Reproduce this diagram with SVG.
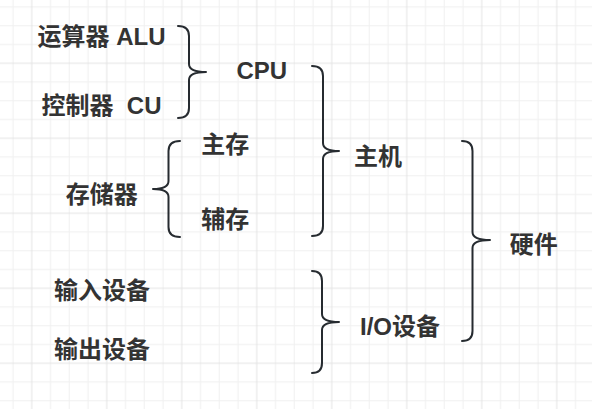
<svg xmlns="http://www.w3.org/2000/svg" width="592" height="409" viewBox="0 0 592 409">
<defs>
<style>
.t{font-family:"Liberation Sans","Noto Sans CJK SC",sans-serif;font-weight:bold;font-size:24px;fill:#333333;}
.b{fill:none;stroke:#262b30;stroke-width:2;stroke-linecap:round;stroke-linejoin:round;}
</style>
<pattern id="grid" patternUnits="userSpaceOnUse" x="31.75" y="63.25" width="75" height="75">
<g fill="#f0f0f0">
<rect x="18.25" y="0" width="1" height="75"/>
<rect x="37" y="0" width="1" height="75"/>
<rect x="55.75" y="0" width="1" height="75"/>
<rect x="0" y="18.25" width="75" height="1"/>
<rect x="0" y="37" width="75" height="1"/>
<rect x="0" y="55.75" width="75" height="1"/>
</g>
<g fill="#e3e3e3">
<rect x="-0.5" y="0" width="1" height="75"/>
<rect x="74.5" y="0" width="1" height="75"/>
<rect x="0" y="-0.5" width="75" height="1"/>
<rect x="0" y="74.5" width="75" height="1"/>
</g>
</pattern>
</defs>
<rect x="0" y="0" width="592" height="409" fill="#ffffff"/>
<rect x="0" y="0" width="592" height="409" fill="url(#grid)"/>
<g id="connectors">
<path class="b" d="M178,26 Q189,26 189,36 L189,64 Q189,72 206,72 Q189,72 189,80 L189,108 Q189,118 178,118"/>
<path class="b" d="M312,66 Q323,66 323,76 L323,143 Q323,151 339,151 Q323,151 323,159 L323,226 Q323,236 312,236"/>
<path class="b" d="M462,141 Q472.5,141 472.5,151 L472.5,232 Q472.5,240 490,240 Q472.5,240 472.5,248 L472.5,331 Q472.5,341 462,341"/>
<path class="b" d="M312,271 Q322,271 322,281 L322,314 Q322,322 339,322 Q322,322 322,330 L322,363 Q322,373 312,373"/>
<path class="b" d="M180,141 Q168.5,141 168.5,151 L168.5,181 Q168.5,189 153,189 Q168.5,189 168.5,197 L168.5,227 Q168.5,237 180,237"/>
</g>
<g id="alu"><text class="t" x="37.5" y="45">运算器 ALU</text></g>
<g id="cu"><text class="t" x="41.5" y="113.5" xml:space="preserve">控制器  CU</text></g>
<g id="cpu"><text class="t" x="236.5" y="79.3">CPU</text></g>
<g id="zhucun"><text class="t" x="201.3" y="153.3">主存</text></g>
<g id="fucun"><text class="t" x="201.3" y="228.3">辅存</text></g>
<g id="cunchuqi"><text class="t" x="65.7" y="203.3">存储器</text></g>
<g id="zhuji"><text class="t" x="354" y="165">主机</text></g>
<g id="yingjian"><text class="t" x="509.7" y="253.3">硬件</text></g>
<g id="shuru"><text class="t" x="54" y="299">输入设备</text></g>
<g id="shuchu"><text class="t" x="54" y="358.3">输出设备</text></g>
<g id="io"><text class="t" x="360" y="335">I/O设备</text></g>
</svg>
